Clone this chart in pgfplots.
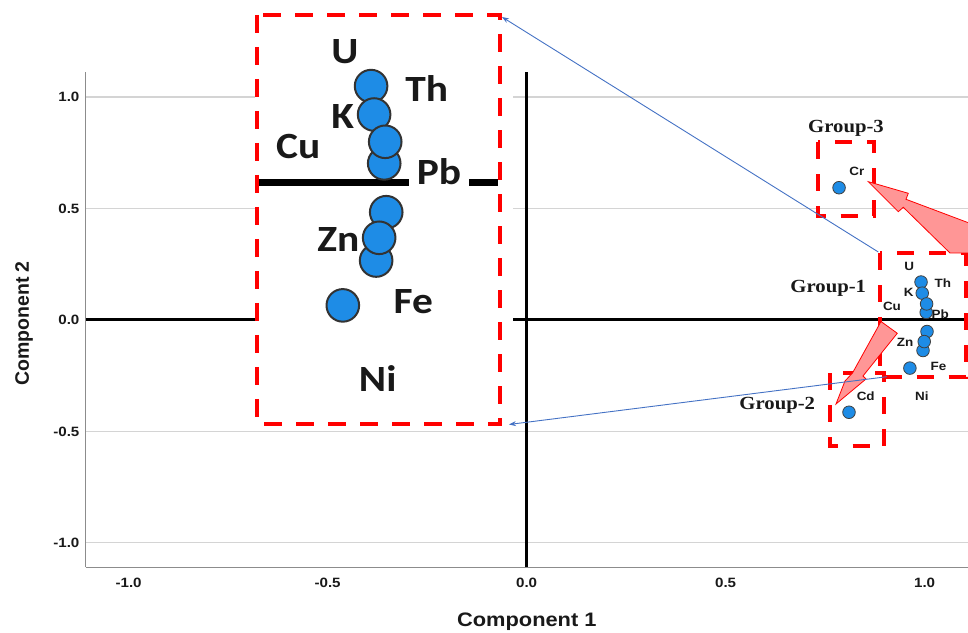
\documentclass[border=0pt]{standalone}
\usepackage{pgfplots}
\pgfplotsset{compat=1.18}
\usepackage{pgfplotstable}
\usepackage{fontspec}
\setmainfont{Liberation Sans}[FakeStretch=1.12]
\newfontfamily\ysans{Liberation Sans}
\newfontfamily\grpfont{Liberation Serif}[FakeStretch=1.12]
\newfontfamily\calfont{Carlito}[FakeStretch=1.12]
\usetikzlibrary{arrows.meta}

\definecolor{ptblue}{RGB}{30,140,230}
\definecolor{gridgray}{RGB}{212,212,212}
\definecolor{axgray}{RGB}{140,140,140}
\definecolor{linkblue}{RGB}{68,114,196}
\definecolor{arrowfill}{RGB}{255,150,150}
\definecolor{txt}{RGB}{25,25,25}

% Group-1: U, Th, K, Cu, Pb, Zn, Fe, Ni (component loadings)
\pgfplotstableread{
x y
0.991 0.170
0.994 0.120
1.004 0.034
1.005 0.072
1.006 -0.052
0.996 -0.137
0.999 -0.097
0.963 -0.216
}\groupone
% Cr (Group-3), Cd (Group-2)
\pgfplotstableread{
x y
0.785 0.593
0.810 -0.414
}\others

\begin{document}
\begin{tikzpicture}
% ---------------- main axis ----------------
\begin{axis}[
  at={(85.6bp,66bp)}, anchor=south west,
  scale only axis, width=882.4bp, height=495bp,
  xmin=-1.108, xmax=1.109, ymin=-1.108, ymax=1.112,
  axis x line=bottom, axis y line=left,
  axis line style={axgray, line width=0.9bp, -},
  xtick={-1,-0.5,0,0.5,1}, ytick={-1,-0.5,0,0.5,1},
  major tick length=0pt,
  ymajorgrids, grid style={gridgray, line width=1.1bp},
  /pgf/number format/.cd, fixed, fixed zerofill, precision=1, assume math mode=true,
  /pgfplots/.cd,
  ticklabel style={font=\fontsize{13.5bp}{15bp}\selectfont\bfseries, text=txt},
  xticklabel style={inner sep=0pt, anchor=north, yshift=-11bp},
  yticklabel style={inner sep=0pt, anchor=east, xshift=-6bp},
  xlabel={Component 1}, ylabel={Component 2},
  every axis x label/.style={at={(axis description cs:0.5,-0.1212)}, anchor=base,
     font=\fontsize{19.5bp}{22bp}\selectfont\bfseries, text=txt},
  every axis y label/.style={at={(axis description cs:-0.0643,0.492)}, anchor=base, rotate=90,
     font=\ysans\fontsize{19.5bp}{22bp}\selectfont\bfseries, text=txt},
  clip=false,
]
  % point labels
  \begin{scope}[font=\fontsize{12bp}{14bp}\selectfont\bfseries, text=txt]
  \node at (axis cs:0.961,0.239) {U};
  \node at (axis cs:1.046,0.164) {Th};
  \node at (axis cs:0.960,0.122) {K};
  \node at (axis cs:0.918,0.059) {Cu};
  \node at (axis cs:1.039,0.026) {Pb};
  \node at (axis cs:0.951,-0.100) {Zn};
  \node at (axis cs:1.035,-0.210) {Fe};
  \node at (axis cs:0.993,-0.344) {Ni};
  \node at (axis cs:0.830,0.665) {Cr};
  \node at (axis cs:0.852,-0.341) {Cd};
  \end{scope}
  % reference lines
  \draw[black, line width=3bp] (axis cs:-1.108,0) -- (axis cs:1.109,0);
  \draw[black, line width=3bp] (axis cs:0,-1.108) -- (axis cs:0,1.112);
  \addplot[only marks, mark=*, mark size=6.3bp,
     mark options={fill=ptblue, draw=black!75, line width=0.8bp}] table {\groupone};
  \addplot[only marks, mark=*, mark size=6.3bp,
     mark options={fill=ptblue, draw=black!75, line width=0.8bp}] table {\others};
\end{axis}

% ---------------- annotations (image pixel coordinates) ----------------
\begin{scope}[shift={(0bp,633bp)}, x=1bp, y=-1bp]
  % group boxes
  \begin{scope}[red, line width=4bp, dash pattern=on 17bp off 15bp]
    \draw (818,142.5) rectangle (873.5,216);
    \draw (880,253.5) rectangle (965.5,377);
    \draw (829.5,373.5) rectangle (884,446.5);
  \end{scope}
  % block arrows
  \draw[red, line width=0.8bp, fill=arrowfill, line join=miter]
    (868.3,181.7) -- (908.3,193.3) -- (906,199.3) -- (985,229) -- (985,253) --
    (950,253) -- (903.3,207.3) -- (898.3,211.7) -- cycle;
  \draw[red, line width=0.8bp, fill=arrowfill, line join=miter]
    (881,321.5) -- (897.3,333.3) -- (863,376) -- (866,379) -- (836,404) --
    (845,381) -- (852.5,373) -- cycle;
  % group labels
  \begin{scope}[font=\grpfont\fontsize{18.5bp}{21bp}\selectfont\bfseries, text=txt]
    \node at (846,128.3) {Group-3};
    \node at (828.3,288.3) {Group-1};
    \node at (777.3,405) {Group-2};
  \end{scope}
  % white background of the enlarged view
  \fill[white] (255,13) rectangle (513,428);
\end{scope}

% ---------------- enlarged view of Group-1 ----------------
\begin{axis}[
  at={(257bp,209bp)}, anchor=south west,
  scale only axis, width=243bp, height=409bp,
  xmin=0.878, xmax=1.1187, ymin=-0.4248, ymax=0.2952,
  hide axis, clip=false,
]
  \draw[black, line width=6.5bp] (axis cs:0.878,0) -- (axis cs:1.1167,0);
  \addplot[only marks, mark=*, mark size=16.3bp,
     mark options={fill=ptblue, draw=black!80, line width=2bp}] table {\groupone};
\end{axis}

\begin{scope}[shift={(0bp,633bp)}, x=1bp, y=-1bp]
  \begin{scope}[font=\calfont\fontsize{37bp}{40bp}\selectfont\bfseries, text=txt]
    \node at (345,51.7) {U};
    \node at (426.7,88.3) {Th};
    \node at (342.7,116.7) {K};
    \node at (298.3,146.7) {Cu};
    \node[fill=white, inner xsep=8bp, inner ysep=2bp] at (439,171.7) {Pb};
    \node at (338.3,240) {Zn};
    \node at (413.3,301.7) {Fe};
    \node at (377.7,378.3) {Ni};
  \end{scope}
  \draw[red, line width=4bp, dash pattern=on 18bp off 14bp] (257,15) rectangle (500,424);
  % connector lines
  \draw[linkblue, line width=0.9bp, -{Stealth[length=7bp,width=5bp]}] (878.3,252) -- (502,17);
  \draw[linkblue, line width=0.9bp, -{Stealth[length=7bp,width=5bp]}] (887,376.7) -- (509,424.5);
\end{scope}

\pgfresetboundingbox
\useasboundingbox (0,0) rectangle (968bp,633bp);
\end{tikzpicture}
\end{document}
